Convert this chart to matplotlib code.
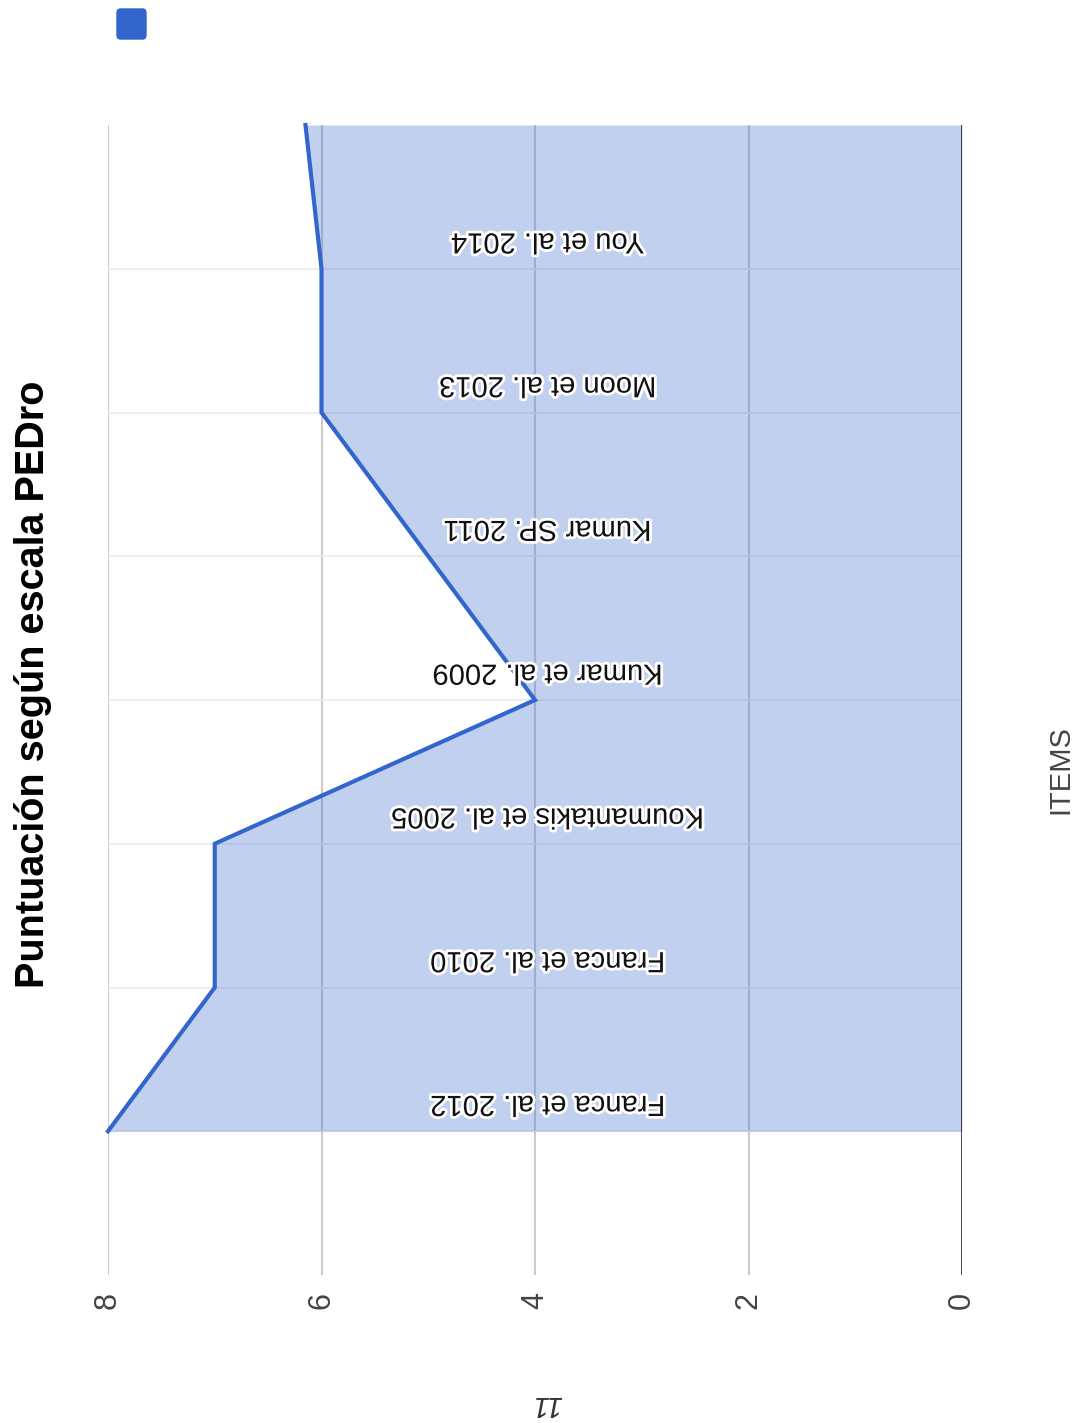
import matplotlib.pyplot as plt
import matplotlib.patheffects as pe
from matplotlib.patches import FancyBboxPatch

plt.rcParams['font.family'] = ['Liberation Sans', 'DejaVu Sans']

# PEDro score for each study (last point continues past the top edge)
studies = ["Franca et al. 2012", "Franca et al. 2010", "Koumantakis et al. 2005",
           "Kumar et al. 2009", "Kumar SP. 2011", "Moon et al. 2013", "You et al. 2014"]
scores = [8, 7, 7, 4, 5, 6, 6, 6.15]
value_ticks = [8, 6, 4, 2, 0]

W, H = 1081, 1423
fig = plt.figure(figsize=(W / 100, H / 100), dpi=100)
ax = fig.add_axes([108 / W, 1 - 1275 / H, (962 - 108) / W, (1275 - 125) / H])

pos = list(range(len(scores)))
line_col = '#3366cc'

# grid
for v in [2, 4, 6, 8]:
    ax.axvline(v, color='#cccccc', lw=1.5, zorder=0)
for p in range(len(studies)):
    ax.axhline(p, color='#ebebeb', lw=1.2, zorder=0)
ax.axvline(0, color='#333333', lw=2, zorder=3)

ax.fill_betweenx(pos, 0, scores, color=line_col, alpha=0.3, lw=0, zorder=1)
ax.plot(scores, pos, color=line_col, lw=3, zorder=4, clip_on=False,
        solid_joinstyle='miter')

for p, name in zip(pos, studies):
    ax.text(0.515, p + 0.19, name, transform=ax.get_yaxis_transform(),
            rotation=180, ha='center', va='center', fontsize=21, color='#111111',
            zorder=5, path_effects=[pe.withStroke(linewidth=4, foreground='white')])

ax.set_xlim(8, 0)
ax.set_ylim(-1, 7)
ax.set_xticks(value_ticks)
ax.set_xticklabels([str(v) for v in value_ticks], rotation=90, fontsize=22,
                   color='#444444')
ax.tick_params(axis='x', length=0, pad=12)
ax.set_yticks([])
for s in ax.spines.values():
    s.set_visible(False)

fig.text(33 / W, 1 - 684 / H, "Puntuación según escala PEDro", rotation=90,
         fontsize=28.5, fontweight='bold', ha='center', va='center', color='#000000')
fig.text(1060 / W, 1 - 770 / H, "ITEMS", rotation=90, fontsize=21,
         ha='center', va='center', color='#444444')
fig.text(547 / W, 1 - 1404 / H, "11", rotation=180, fontsize=21, style='italic',
         ha='center', va='center', color='#333333')

# legend swatch
fig.patches.append(FancyBboxPatch((117 / W, 1 - 39 / H), 29 / W, 30 / H,
                                  boxstyle='round,pad=0,rounding_size=0.003',
                                  transform=fig.transFigure, color=line_col))

fig.savefig('out.png', dpi=100)
